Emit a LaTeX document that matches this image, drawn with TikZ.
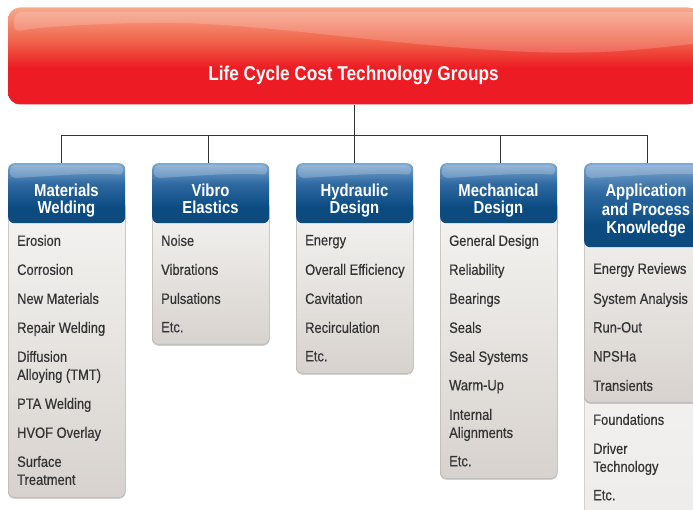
\documentclass[tikz,border=0pt]{standalone}
\usepackage{fontspec}
\setmainfont{Liberation Sans}[FakeStretch=0.86]
\newfontfamily\itemfont{Liberation Sans}[FakeStretch=0.86, FakeBold=0.4]
\usetikzlibrary{shadows,calc}
\definecolor{rT}{HTML}{F6A88E}
\definecolor{rM}{HTML}{F0654A}
\definecolor{rB}{HTML}{ED1C24}
\definecolor{bT}{HTML}{7FA7CF}
\definecolor{bM}{HTML}{2F6AA2}
\definecolor{bB}{HTML}{0B4B80}
\definecolor{gT}{HTML}{F5F4F2}
\definecolor{gB}{HTML}{D7D2CD}
\definecolor{gD}{HTML}{B9B4AE}
\definecolor{wT}{HTML}{F7F6F5}
\definecolor{wB}{HTML}{EEECEA}
\definecolor{txt}{HTML}{333333}
\pgfdeclareverticalshading{redbar}{100bp}{color(0bp)=(rB); color(25bp)=(rB); color(44bp)=(rB); color(58bp)=(rM); color(75bp)=(rT); color(100bp)=(rT)}
\pgfdeclareverticalshading{bluebar}{100bp}{color(0bp)=(bB); color(25bp)=(bB); color(38bp)=(bB); color(58bp)=(bM); color(75bp)=(bT); color(100bp)=(bT)}
\pgfdeclareverticalshading{greybody}{100bp}{color(0bp)=(gB); color(25bp)=(gB); color(75bp)=(gT); color(100bp)=(gT)}
\pgfdeclareverticalshading{whitebody}{100bp}{color(0bp)=(wB); color(25bp)=(wB); color(75bp)=(wT); color(100bp)=(wT)}
\tikzset{
  banner/.style={shading=redbar, rounded corners=12pt, minimum width=692pt, minimum height=97pt, inner sep=0pt},
  titletxt/.style={text=white, font=\fontsize{20}{22}\selectfont\bfseries, inner sep=0pt},
  hdr/.style={shading=bluebar, rounded corners=6pt, minimum height=60pt, inner sep=0pt, anchor=north west},
  hdrtxt/.style={text=white, font=\fontsize{17.3}{17}\selectfont\bfseries, align=center, inner sep=0pt, anchor=north},
  bodybox/.style={shading=greybody, draw=gD, line width=0.6pt, rounded corners=6pt, inner sep=0pt, anchor=north west,
    drop shadow={shadow xshift=0pt, shadow yshift=-1.5pt, opacity=0.3, fill=black!60}},
  lowbox/.style={shading=whitebody, draw=gD!80, line width=0.6pt, rounded corners=6pt, inner sep=0pt, anchor=north west},
  item/.style={text=txt, font=\itemfont\fontsize{15}{18}\selectfont, align=left, inner sep=0pt, anchor=north west},
  conn/.style={draw=black!80, line width=0.8pt},
  gloss/.style={fill=white, opacity=0.22}
}
\begin{document}
\begin{tikzpicture}[x=1pt,y=-1pt]
\useasboundingbox (0,0) rectangle (693,510);
\clip (0,0) rectangle (693,510);
% banner
\node[banner] (banner) at (354,56) {};
\begin{scope}
  \clip[rounded corners=12pt] (8,8) rectangle (700,104);
  \fill[white, opacity=0.18, rounded corners=8pt] (14,12) -- (700,12) -- (700,43) .. controls (640,50) and (600,54) .. (530,52) .. controls (380,45) and (260,22) .. (150,23) .. controls (80,24) and (30,28) .. (14,33) -- cycle;
\end{scope}
\node[titletxt, anchor=base] (title) at (353.5,81) {Life Cycle Cost Technology Groups};
% connectors
\coordinate (bus) at (354,135);
\coordinate (t1) at (61,135);
\coordinate (t2) at (208,135);
\coordinate (t3) at (354,135);
\coordinate (t4) at (500,135);
\coordinate (t5) at (647,135);
% lower panel of last column
\node[lowbox, minimum width=124pt, minimum height=300pt] (b5low) at (584,230) {};
% bodies
\node[bodybox, minimum width=117pt, minimum height=297pt] (b1) at (8,200) {};
\node[bodybox, minimum width=117pt, minimum height=144pt] (b2) at (152,200) {};
\node[bodybox, minimum width=117pt, minimum height=173pt] (b3) at (296,200) {};
\node[bodybox, minimum width=117pt, minimum height=278pt] (b4) at (440,200) {};
\node[bodybox, minimum width=124pt, minimum height=202pt] (b5) at (584,200) {};
% headers
\node[hdr, minimum width=117pt] (h1) at (8,163) {};
\node[hdr, minimum width=117pt] (h2) at (152,163) {};
\node[hdr, minimum width=117pt] (h3) at (296,163) {};
\node[hdr, minimum width=117pt] (h4) at (440,163) {};
\node[hdr, minimum width=124pt, minimum height=84pt] (h5) at (584,163) {};
\foreach \n in {h1,h2,h3,h4,h5}{
  \begin{scope}
    \clip[rounded corners=6pt] (\n.north west) rectangle (\n.south east);
    \fill[gloss, rounded corners=5pt] ($(\n.north west)+(2,2)$) -- ($(\n.north east)+(-2,2)$) -- ($(\n.north east)+(-2,12)$) .. controls ($(\n.north)+(25,9)$) and ($(\n.north)+(-25,14)$) .. ($(\n.north west)+(2,15)$) -- cycle;
  \end{scope}
}
\draw[conn] (banner.south) -- (bus);
\draw[conn] (t1) -- (t5);
\draw[conn] (t1) -- (t1 |- h1.north);
\draw[conn] (t2) -- (t2 |- h2.north);
\draw[conn] (t3) -- (t3 |- h3.north);
\draw[conn] (t4) -- (t4 |- h4.north);
\draw[conn] (t5) -- (t5 |- h5.north);
% header texts
\node[hdrtxt] (h1t) at (66.5,183.5) {Materials\\Welding};
\node[hdrtxt] (h2t) at (210.5,183.5) {Vibro\\Elastics};
\node[hdrtxt] (h3t) at (354.5,183.5) {Hydraulic\\Design};
\node[hdrtxt] (h4t) at (498.5,183.5) {Mechanical\\Design};
\node[hdrtxt, font=\fontsize{17.3}{18.5}\selectfont\bfseries] (h5t) at (646,184) {Application\\and Process\\Knowledge};
% items column 1
\node[item] (i11) at (17,234.8) {Erosion};
\node[item] (i12) at (17,263.8) {Corrosion};
\node[item] (i13) at (17,292.8) {New Materials};
\node[item] (i14) at (17,321.8) {Repair Welding};
\node[item] (i15) at (17,350.8) {Diffusion\\Alloying (TMT)};
\node[item] (i16) at (17,397.8) {PTA Welding};
\node[item] (i17) at (17,426.8) {HVOF Overlay};
\node[item] (i18) at (17,455.8) {Surface\\Treatment};
% column 2
\node[item] (i21) at (161,234.8) {Noise};
\node[item] (i22) at (161,263.8) {Vibrations};
\node[item] (i23) at (161,292.8) {Pulsations};
\node[item] (i24) at (161,321.8) {Etc.};
% column 3
\node[item] (i31) at (305,234.8) {Energy};
\node[item] (i32) at (305,263.8) {Overall Efficiency};
\node[item] (i33) at (305,292.8) {Cavitation};
\node[item] (i34) at (305,321.8) {Recirculation};
\node[item] (i35) at (305,350.8) {Etc.};
% column 4
\node[item] (i41) at (449,234.8) {General Design};
\node[item] (i42) at (449,263.8) {Reliability};
\node[item] (i43) at (449,292.8) {Bearings};
\node[item] (i44) at (449,321.8) {Seals};
\node[item] (i45) at (449,350.8) {Seal Systems};
\node[item] (i46) at (449,379.8) {Warm-Up};
\node[item] (i47) at (449,408.8) {Internal\\Alignments};
\node[item] (i48) at (449,455.8) {Etc.};
% column 5
\node[item] (i51) at (593,262.8) {Energy Reviews};
\node[item] (i52) at (593,292.8) {System Analysis};
\node[item] (i53) at (593,321.8) {Run-Out};
\node[item] (i54) at (593,350.8) {NPSHa};
\node[item] (i55) at (593,379.8) {Transients};
\node[item] (i56) at (593,413.8) {Foundations};
\node[item] (i57) at (593,442.8) {Driver\\Technology};
\node[item] (i58) at (593,489.8) {Etc.};
\end{tikzpicture}
\end{document}
